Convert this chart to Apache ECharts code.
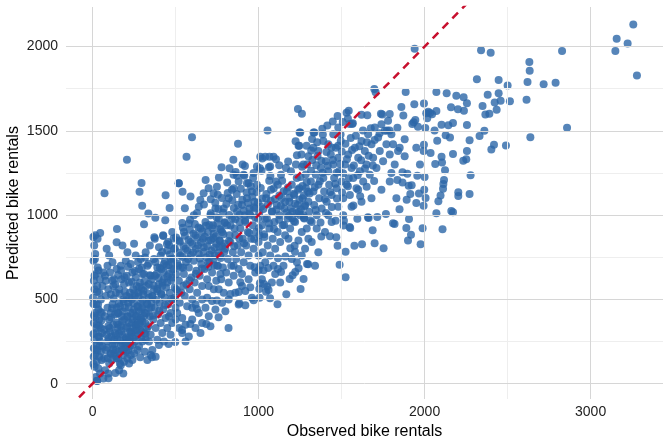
<!DOCTYPE html>
<html>
<head>
<meta charset="utf-8">
<script src="https://cdn.jsdelivr.net/npm/echarts@6/dist/echarts.min.js"></script>
<style>
  html, body { margin: 0; padding: 0; background: #fff; }
  #chart { width: 672px; height: 447px; }
</style>
</head>
<body>
<div id="chart"></div>
<script>
// observed vs predicted: [observed, predicted]
var nearZero = [[5,870],[16,880],[46,894],[30,860],[10,820],[6,730],[16,770],[36,671],[20,650],[8,610],[28,580],[12,560],[40,540],[6,473],[22,470],[35,440],[15,420],[16,394],[40,380],[8,360],[25,350],[50,330],[6,295],[18,300],[35,280],[12,260],[45,250],[22,230],[8,210],[30,200],[50,190],[15,170],[40,160],[6,117],[25,130],[12,100],[35,90],[26,18],[45,60],[20,40],[55,140],[60,220],[58,300],[55,420],[50,500],[45,620],[28,16],[3,510],[12,640],[24,330],[33,470],[42,280],[9,405],[19,200],[27,545],[38,345],[48,425],[14,740],[31,690],[44,225],[7,160],[53,375]];
var lowRange = [[65,30],[75,80],[70,150],[80,200],[90,250],[100,120],[110,180],[120,230],[130,260],[140,200],[145,150],[70,320],[85,290],[95,340],[105,310],[115,280],[125,350],[135,300],[150,330],[75,400],[90,450],[100,380],[110,420],[120,470],[135,410],[145,450],[80,520],[95,560],[110,530],[125,580],[140,540],[75,640],[90,700],[105,660],[130,620],[145,680],[72,1130],[85,800],[100,760],[120,720],[145,839],[147,918],[60,580],[65,660],[80,610],[150,260],[130,180],[115,140],[95,60],[96,32],[137,64]];
var lowMid = [[155,150],[165,120],[175,200],[185,170],[195,240],[205,190],[215,260],[225,220],[235,300],[245,270],[255,250],[265,320],[275,290],[285,350],[295,310],[160,300],[170,340],[180,290],[190,380],[200,330],[210,400],[220,360],[230,420],[240,380],[250,440],[260,400],[270,460],[280,430],[290,480],[300,450],[155,420],[165,460],[175,400],[185,500],[195,450],[205,520],[215,480],[225,540],[235,500],[245,560],[255,520],[265,580],[275,540],[285,600],[295,560],[160,560],[175,620],[190,590],[205,640],[220,600],[240,660],[260,630],[280,680],[300,650],[170,700],[200,730],[230,710],[260,760],[290,740],[180,820],[210,780],[250,830],[283,1139],[295,1191],[299,1056],[310,946],[207,1328],[170,110],[190,130],[210,150],[230,170],[250,180],[270,200],[160,80],[185,60],[220,120],[240,140],[280,220],[300,250],[155,350],[200,270],[225,310],[260,350],[290,390],[180,240],[215,200],[245,330],[270,380],[300,370],[287,157],[319,295]];
var coreLow = [[88,215],[97,268],[103,331],[112,392],[118,447],[126,505],[133,236],[141,288],[147,362],[152,418],[158,476],[163,533],[168,258],[174,312],[179,371],[183,428],[188,487],[194,545],[198,214],[203,276],[209,338],[213,397],[218,455],[222,512],[227,247],[232,305],[238,362],[243,421],[247,478],[252,536],[257,285],[262,343],[267,401],[272,458],[277,517],[281,573],[286,322],[291,381],[296,438],[302,497],[307,552],[312,606],[318,359],[323,418],[328,476],[334,534],[339,591],[344,643],[92,152],[108,177],[124,203],[139,164],[156,191],[171,228],[187,199],[206,241],[224,272],[241,229],[259,318],[276,356],[293,267],[311,401],[327,327],[342,446],[118,612],[137,588],[154,645],[172,671],[193,632],[214,694],[236,605],[255,668],[274,722],[297,689],[316,748],[337,711]];
var midLow = [[310,300],[320,260],[335,340],[350,290],[365,380],[380,330],[395,410],[410,360],[425,440],[440,390],[455,470],[470,420],[485,500],[500,450],[315,420],[330,470],[345,400],[360,520],[375,450],[390,550],[405,480],[420,580],[435,510],[450,600],[465,540],[480,630],[495,570],[305,530],[325,580],[340,510],[355,620],[370,560],[385,650],[400,590],[415,680],[430,620],[445,700],[460,650],[475,720],[490,680],[310,650],[330,700],[350,640],[370,740],[390,690],[410,760],[430,710],[450,790],[470,740],[490,800],[320,780],[345,820],[375,860],[400,810],[425,880],[455,840],[480,900],[336,1009],[378,985],[372,869],[426,876],[438,970],[464,1043],[440,1118],[488,861],[448,829],[340,250],[360,200],[390,260],[420,300],[450,330],[480,360],[500,380],[400,230],[470,290],[350,170],[330,140],[380,160],[315,190],[430,250],[460,400],[415,530],[355,480],[495,510],[358,157],[458,236],[498,247]];
var coreMid = [[353,452],[361,517],[368,583],[376,641],[383,497],[391,562],[398,627],[406,688],[413,534],[421,601],[428,663],[436,727],[443,571],[451,638],[458,702],[466,766],[473,612],[481,676],[488,741],[496,803],[503,649],[511,713],[518,779],[526,842],[533,688],[541,752],[548,816],[556,877],[563,722],[571,789],[578,853],[586,914],[593,764],[601,828],[608,889],[616,947],[623,801],[631,866],[638,927],[646,742],[653,838],[661,903],[668,781],[676,872],[683,937],[691,816],[698,694],[706,767],[713,853],[721,922],[728,738],[736,807],[743,874],[751,951],[758,777],[766,846],[773,912],[781,815],[788,887],[796,953],[364,404],[402,432],[437,467],[474,503],[512,548],[547,581],[584,613],[622,652],[659,684],[697,721],[734,703],[772,746],[379,722],[419,781],[461,823],[503,867],[544,925],[587,972],[629,1012],[671,1063],[712,1094],[754,1121]];
var midRange = [[510,420],[525,480],[540,390],[555,520],[570,460],[585,560],[600,500],[615,600],[630,540],[645,640],[660,580],[675,680],[690,620],[705,720],[720,660],[735,760],[750,700],[505,560],[520,610],[535,540],[550,650],[565,590],[580,690],[595,630],[610,730],[625,670],[640,770],[655,710],[670,810],[685,750],[700,850],[715,790],[730,890],[745,830],[515,700],[530,760],[545,690],[560,800],[575,740],[590,840],[605,780],[620,880],[635,820],[650,920],[665,860],[680,960],[695,900],[710,1000],[725,940],[740,1040],[520,850],[550,900],[580,950],[610,1000],[640,1050],[518,1189],[542,1139],[590,1110],[556,1041],[540,954],[566,1347],[599,1462],[520,1189],[649,1090],[669,1130],[681,1209],[699,1160],[729,1130],[749,1169],[560,350],[600,380],[640,420],[680,450],[720,490],[620,330],[660,360],[700,400],[740,440],[580,280],[650,300],[710,340],[600,450],[560,250],[690,510],[730,560],[660,500],[620,470],[745,610],[700,580],[520,330],[540,300],[539,319],[589,354],[629,443],[685,354],[749,493],[759,394]];
var midHigh = [[760,560],[775,620],[790,540],[805,660],[820,600],[835,700],[850,640],[865,740],[880,680],[895,780],[910,720],[925,820],[940,760],[955,860],[970,800],[985,900],[1000,840],[755,700],[770,760],[785,690],[800,800],[815,740],[830,840],[845,780],[860,880],[875,820],[890,920],[905,860],[920,960],[935,900],[950,1000],[965,940],[980,1040],[995,980],[765,850],[780,900],[795,830],[810,940],[825,880],[840,980],[855,920],[870,1020],[885,960],[900,1060],[915,1000],[930,1100],[945,1040],[960,1140],[975,1080],[990,1180],[760,980],[790,1040],[820,1100],[850,1160],[880,1200],[910,1240],[940,1190],[970,1250],[761,1223],[777,1284],[825,1278],[849,1239],[870,1234],[914,1234],[840,1150],[930,1189],[848,1328],[904,1300],[876,1423],[990,1288],[780,480],[820,500],[860,540],[900,580],[940,620],[980,660],[800,430],[880,470],[960,510],[920,550],[884,477],[880,544],[890,602],[920,465],[950,572],[970,495],[976,691],[1000,673],[850,700],[900,650],[950,700],[770,650],[1000,760],[819,330],[830,532]];
var coreUpper = [[703,942],[712,1011],[726,865],[739,1073],[747,987],[758,1036],[767,918],[779,1102],[786,1014],[797,958],[806,1066],[814,1131],[823,1001],[831,938],[842,1088],[851,1042],[859,976],[868,1125],[877,1061],[886,1003],[893,1157],[902,1091],[911,1028],[919,968],[928,1135],[936,1072],[945,1010],[953,1172],[962,1109],[971,1047],[979,986],[988,1138],[996,1075],[1004,1012],[1013,1161],[1021,1098],[1029,1037],[1038,978],[1047,1126],[1056,1063],[1064,1204],[1073,1085],[1082,1022],[1091,1158],[1099,1096],[1108,1033],[1116,1181],[1125,1117],[1134,1056],[1142,1204],[1151,1141],[1160,1078],[1168,1016],[1177,1164],[1186,1103],[1194,1040],[1203,981],[1212,1127],[1220,1068],[1229,1011],[1238,1151],[1246,1092],[1255,1035],[1264,1173],[1272,1116],[1281,1059],[1290,1196],[1298,1139],[764,812],[793,781],[822,847],[853,815],[884,862],[913,833],[943,894],[974,859],[1002,923],[1033,886],[1063,952],[1093,918],[1124,973],[1154,941],[1183,996],[1213,963],[1244,1018],[1273,985],[811,1194],[862,1256],[918,1292],[967,1221],[1018,1263],[1071,1232],[1124,1296],[1178,1318],[1231,1355]];
var upperMid = [[1010,700],[1025,780],[1040,720],[1055,820],[1070,760],[1085,860],[1100,800],[1115,900],[1130,840],[1145,940],[1160,880],[1175,980],[1190,920],[1205,1020],[1220,960],[1235,1060],[1250,1000],[1005,880],[1020,940],[1035,870],[1050,980],[1065,920],[1080,1020],[1095,960],[1110,1060],[1125,1000],[1140,1100],[1155,1040],[1170,1140],[1185,1080],[1200,1180],[1215,1120],[1230,1220],[1245,1160],[1015,1050],[1045,1100],[1075,1150],[1105,1200],[1135,1240],[1165,1280],[1195,1260],[1225,1300],[1010,1347],[1040,1347],[1070,1288],[1090,1347],[1022,1336],[1066,1347],[1105,1332],[1008,1278],[1062,1284],[1054,1502],[1237,1630],[1261,1601],[1247,1490],[1223,1439],[1245,1411],[1008,596],[1004,562],[1006,510],[1033,592],[1045,546],[1051,576],[1060,556],[1069,507],[1058,687],[1030,673],[1114,471],[1135,663],[1117,681],[1117,744],[1161,754],[1167,531],[1187,621],[1191,804],[1205,643],[1217,819],[1219,783],[1221,663],[1231,720],[1241,685],[1253,562],[1150,700],[1100,650],[1200,740],[1080,600],[1130,600],[1180,860],[1240,850],[1020,620],[1090,700]];
var highRange = [[1260,900],[1275,980],[1290,920],[1305,1020],[1320,960],[1335,1060],[1350,1000],[1365,1100],[1380,1040],[1395,1140],[1410,1080],[1425,1180],[1440,1120],[1455,1220],[1470,1160],[1485,1260],[1500,1200],[1265,1100],[1285,1160],[1300,1080],[1315,1200],[1330,1140],[1345,1240],[1360,1180],[1375,1280],[1390,1220],[1405,1320],[1420,1260],[1435,1360],[1450,1300],[1465,1400],[1480,1340],[1495,1440],[1270,1300],[1300,1350],[1330,1400],[1360,1380],[1390,1440],[1420,1420],[1450,1480],[1480,1520],[1317,1383],[1331,1490],[1336,1490],[1384,1512],[1251,1490],[1241,1411],[1299,708],[1271,621],[1378,873],[1430,875],[1464,967],[1468,869],[1476,819],[1488,706],[1494,1478],[1280,800],[1320,840],[1360,780],[1400,900],[1440,960],[1300,860],[1350,920],[1420,1000],[1480,1050],[1260,760],[1340,700],[1270,1000],[1292,710]];
var coreHigh = [[1253,1226],[1262,1287],[1276,1053],[1284,1241],[1293,1302],[1307,1129],[1316,1264],[1324,1327],[1338,1166],[1347,1296],[1355,1351],[1369,1201],[1378,1323],[1386,1252],[1399,1095],[1409,1374],[1417,1293],[1431,1137],[1439,1401],[1448,1327],[1462,1186],[1470,1251],[1479,1411],[1492,1304],[1501,1377],[1509,1248],[1523,1424],[1532,1331],[1543,1219],[1555,1458],[1563,1387],[1574,1295],[1586,1471],[1597,1236],[1607,1409],[1618,1325],[1629,1502],[1641,1276],[1652,1433],[1663,1352],[1676,1516],[1688,1294],[1699,1446],[1258,1360],[1289,1411],[1322,1452],[1353,1432],[1387,1478],[1414,1532],[1447,1556],[1476,1588],[1507,1552],[1543,1619],[1311,968],[1344,1031],[1373,956],[1406,1012],[1441,1048],[1472,1098],[1503,1134],[1538,1172],[1571,1057],[1612,1112],[1651,1169],[1696,1203]];
var veryHigh = [[1510,1100],[1530,1180],[1550,1120],[1570,1220],[1590,1160],[1610,1260],[1630,1200],[1650,1300],[1670,1240],[1690,1340],[1710,1280],[1730,1380],[1750,1320],[1770,1420],[1790,1360],[1520,1300],[1540,1360],[1560,1280],[1580,1400],[1600,1340],[1620,1440],[1640,1380],[1660,1480],[1680,1420],[1700,1520],[1720,1460],[1740,1540],[1760,1500],[1780,1560],[1800,1480],[1530,1608],[1538,1573],[1548,1541],[1564,1541],[1568,1545],[1620,1595],[1655,1593],[1697,1749],[1705,1729],[1737,1601],[1745,1597],[1729,1486],[1773,1502],[1789,1502],[1514,967],[1548,930],[1552,924],[1512,938],[1595,979],[1663,983],[1659,987],[1715,989],[1767,1007],[1524,782],[1524,631],[1577,819],[1623,827],[1699,833],[1687,910],[1753,804],[1510,1000],[1560,1050],[1620,1080],[1680,1100],[1740,1150],[1790,1200],[1600,1150]];
var sparseTail = [[1810,952],[1819,948],[1836,1209],[1836,1519],[1849,1035],[1860,1642],[1867,1255],[1867,1193],[1872,1591],[1886,1731],[1890,924],[1892,1092],[1896,1246],[1900,849],[1904,1175],[1906,977],[1914,1126],[1918,884],[1922,1177],[1926,1541],[1934,1551],[1938,1658],[1940,1988],[1944,1565],[1950,1072],[1956,1234],[1960,1525],[1966,1128],[1972,1300],[1976,827],[1988,922],[1994,1055],[1994,1381],[1996,1417],[1996,1662],[1998,1151],[2000,1227],[2004,1517],[2006,1102],[2010,1605],[2016,1575],[2022,1614],[2033,1606],[2036,1369],[2045,1599],[2060,1502],[2064,1304],[2071,1731],[2071,1011],[2071,1618],[2076,1442],[2083,1082],[2096,1116],[2102,1537],[2102,1347],[2105,1312],[2108,916],[2111,1156],[2113,1185],[2117,1209],[2123,1266],[2127,1474],[2133,1723],[2143,1534],[2153,1460],[2159,1640],[2161,1025],[2171,1017],[2171,1547],[2171,1363],[2191,1709],[2201,1628],[2203,1136],[2203,1114],[2233,1322],[2235,1700],[2237,1620],[2251,1332],[2255,1664],[2255,1535],[2255,1381],[2271,1444],[2271,1126],[2277,1237],[1820,1300],[1850,1400],[1880,1350],[1830,1100],[1800,1250],[1880,1450],[1950,1400],[1840,1380],[1790,1600],[1810,1420]];
var extremes = [[2315,1806],[2331,1470],[2340,1979],[2349,1648],[2360,1500],[2366,1597],[2380,1715],[2390,1601],[2398,1964],[2402,1389],[2418,1417],[2422,1668],[2434,1626],[2446,1802],[2446,1723],[2458,1678],[2490,1413],[2500,1769],[2514,1676],[2614,1684],[2620,1790],[2631,1909],[2633,1856],[2637,1462],[2717,1777],[2789,1786],[2828,1974],[2858,1519],[3149,1974],[3157,2046],[3223,2018],[3257,2131],[3279,1828]];

var xTicks = [0, 1000, 2000, 3000];
var xMinor = [500, 1500, 2500];
var yTicks = [0, 500, 1000, 1500, 2000];
var yMinor = [250, 750, 1250, 1750];
var idealEnds = [-200, 2400]; // y = x reference

var points = [].concat(nearZero, lowRange, lowMid, coreLow, midLow, coreMid, midRange, midHigh,
  coreUpper, upperMid, highRange, coreHigh, veryHigh, sparseTail, extremes);

var chart = echarts.init(document.getElementById('chart'));

function gridLines(axis, vals, color) {
  return vals.map(function (v) {
    var o = {}; o[axis] = v;
    o.lineStyle = { color: color, width: 1, type: 'solid' };
    return o;
  });
}

var font = 'Liberation Sans, Arial, sans-serif';
var plain = function (v) { return String(v); };

chart.setOption({
  animation: false,
  grid: { left: 66, right: 9, top: 7, bottom: 48, outerBoundsMode: 'none', containLabel: false },
  xAxis: {
    type: 'value', min: -160, max: 3436,
    name: 'Observed bike rentals', nameLocation: 'middle', nameGap: 25, nameMoveOverlap: false,
    nameTextStyle: { fontSize: 16, color: '#000', fontFamily: font },
    axisLine: { show: false }, axisTick: { show: false }, splitLine: { show: false },
    axisLabel: { customValues: xTicks, formatter: plain, fontSize: 14, color: '#222', margin: 6, fontFamily: font }
  },
  yAxis: {
    type: 'value', min: -91, max: 2235,
    name: 'Predicted bike rentals', nameLocation: 'middle', nameGap: 44, nameMoveOverlap: false,
    nameTextStyle: { fontSize: 16, color: '#000', fontFamily: font },
    axisLine: { show: false }, axisTick: { show: false }, splitLine: { show: false },
    axisLabel: { customValues: yTicks, formatter: plain, fontSize: 14, color: '#222', margin: 8, fontFamily: font }
  },
  series: [
    {
      type: 'line', data: [], silent: true,
      markLine: {
        silent: true, symbol: 'none', label: { show: false }, animation: false,
        data: [].concat(
          gridLines('xAxis', xMinor, '#eeeeee'),
          gridLines('yAxis', yMinor, '#eeeeee'),
          gridLines('xAxis', xTicks, '#d6d6d6'),
          gridLines('yAxis', yTicks, '#d6d6d6')
        )
      }
    },
    {
      type: 'scatter', data: points, symbolSize: 8,
      itemStyle: { color: '#2c66a8', opacity: 0.8 }
    },
    {
      type: 'line', data: idealEnds.map(function (v) { return [v, v]; }),
      symbol: 'none', clip: true, z: 5,
      lineStyle: { color: '#c8102e', width: 2.5, type: [8, 6] }
    }
  ]
});
</script>
</body>
</html>
